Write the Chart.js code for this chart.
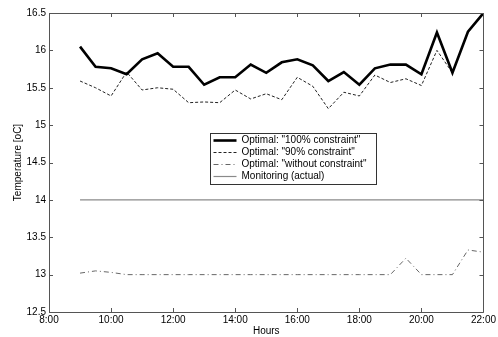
<!DOCTYPE html>
<html>
<head>
<meta charset="utf-8">
<script src="https://cdn.jsdelivr.net/npm/chart.js@4"></script>
<style>
  html, body { margin: 0; padding: 0; background: #fff; }
  #wrap { width: 498px; height: 337px; }
</style>
</head>
<body>
<div id="wrap"><canvas id="temp-chart" width="498" height="337"></canvas></div>
<script>
// half-hourly readings, 9:00 .. 22:00
const hours = [9, 9.5, 10, 10.5, 11, 11.5, 12, 12.5, 13, 13.5, 14, 14.5, 15, 15.5,
               16, 16.5, 17, 17.5, 18, 18.5, 19, 19.5, 20, 20.5, 21, 21.5, 22];

const optimal100 = [16.05, 15.78, 15.76, 15.68, 15.88, 15.96, 15.78, 15.78, 15.54, 15.64,
                    15.64, 15.81, 15.70, 15.84, 15.88, 15.80, 15.59, 15.71, 15.54, 15.76,
                    15.81, 15.81, 15.68, 16.24, 15.70, 16.25, 16.50];

const optimal90 = [15.59, 15.50, 15.39, 15.71, 15.47, 15.50, 15.48, 15.30, 15.31, 15.30,
                   15.47, 15.35, 15.42, 15.34, 15.64, 15.52, 15.22, 15.44, 15.39, 15.67,
                   15.57, 15.62, 15.53, 16.00, 15.70, 16.25, 16.50];

const optimalFree = [13.02, 13.05, 13.03, 13.00, 13.00, 13.00, 13.00, 13.00, 13.00, 13.00,
                     13.00, 13.00, 13.00, 13.00, 13.00, 13.00, 13.00, 13.00, 13.00, 13.00,
                     13.00, 13.22, 13.00, 13.00, 13.00, 13.33, 13.30];

const monitoring = [14, 14, 14, 14, 14, 14, 14, 14, 14, 14, 14, 14, 14, 14,
                    14, 14, 14, 14, 14, 14, 14, 14, 14, 14, 14, 14, 14];

const seriesNames = [
    'Optimal: "100% constraint"',
    'Optimal: "90% constraint"',
    'Optimal: "without constraint"',
    'Monitoring (actual)'
];

const FONT = "'Liberation Sans', Arial, sans-serif";

function points(values) {
    return values.map((v, i) => ({ x: hours[i], y: v }));
}

// matlab-like box around the plot with inward ticks on every side
const frame = {
    id: 'frame',
    afterDatasetsDraw(chart) {
        const { ctx, chartArea: a, scales } = chart;
        ctx.save();
        ctx.strokeStyle = '#555';
        ctx.lineWidth = 1;
        ctx.beginPath();
        ctx.rect(Math.round(a.left) + 0.5, Math.round(a.top) + 0.5,
                 Math.round(a.right - a.left), Math.round(a.bottom - a.top));
        const len = 4;
        scales.x.ticks.forEach(t => {
            const px = Math.round(scales.x.getPixelForValue(t.value)) + 0.5;
            ctx.moveTo(px, a.bottom); ctx.lineTo(px, a.bottom - len);
            ctx.moveTo(px, a.top); ctx.lineTo(px, a.top + len);
        });
        scales.y.ticks.forEach(t => {
            const py = Math.round(scales.y.getPixelForValue(t.value)) + 0.5;
            ctx.moveTo(a.left, py); ctx.lineTo(a.left + len, py);
            ctx.moveTo(a.right, py); ctx.lineTo(a.right - len, py);
        });
        ctx.stroke();
        ctx.restore();
    }
};

// boxed legend sitting inside the plot area
const boxLegend = {
    id: 'boxLegend',
    afterDraw(chart) {
        const { ctx, chartArea: a } = chart;
        const x = Math.round(a.left + (a.right - a.left) * 0.371) + 0.5;
        const y = Math.round(a.top + (a.bottom - a.top) * 0.403) + 0.5;
        const w = 166, h = 51, row = 12;
        ctx.save();
        ctx.fillStyle = '#fff';
        ctx.fillRect(x, y, w, h);
        ctx.strokeStyle = '#333';
        ctx.lineWidth = 1;
        ctx.setLineDash([]);
        ctx.strokeRect(x, y, w, h);
        ctx.font = '10px ' + FONT;
        ctx.textBaseline = 'middle';
        chart.data.datasets.forEach((ds, i) => {
            const cy = y + 7 + i * row;
            ctx.beginPath();
            ctx.strokeStyle = ds.borderColor;
            ctx.lineWidth = ds.borderWidth;
            ctx.setLineDash(ds.borderDash || []);
            ctx.moveTo(x + 3, cy);
            ctx.lineTo(x + 26, cy);
            ctx.stroke();
            ctx.fillStyle = '#000';
            ctx.fillText(ds.label, x + 31, cy);
        });
        ctx.restore();
    }
};

const ctx = document.getElementById('temp-chart').getContext('2d');

new Chart(ctx, {
    type: 'line',
    data: {
        datasets: [
            {
                label: seriesNames[0],
                data: points(optimal100),
                borderColor: '#000',
                borderWidth: 2.6,
                order: 0
            },
            {
                label: seriesNames[1],
                data: points(optimal90),
                borderColor: '#222',
                borderWidth: 1,
                borderDash: [3, 2],
                order: 1
            },
            {
                label: seriesNames[2],
                data: points(optimalFree),
                borderColor: '#666',
                borderWidth: 1,
                borderDash: [5, 3, 1, 3],
                order: 2
            },
            {
                label: seriesNames[3],
                data: points(monitoring),
                borderColor: '#8a8a8a',
                borderWidth: 1.2,
                order: 3
            }
        ]
    },
    options: {
        responsive: false,
        animation: false,
        elements: {
            point: { radius: 0 },
            line: { tension: 0, fill: false }
        },
        layout: { padding: { left: 12, right: 13, top: 13, bottom: 0 } },
        plugins: {
            legend: { display: false },
            tooltip: { enabled: false }
        },
        scales: {
            x: {
                type: 'linear',
                min: 8,
                max: 22,
                afterFit(scale) { scale.height = 25; },
                grid: { display: false, drawTicks: false },
                border: { display: false },
                ticks: {
                    stepSize: 2,
                    padding: 2,
                    maxRotation: 0,
                    color: '#000',
                    font: { family: FONT, size: 10 },
                    callback: v => v + ':00'
                },
                title: {
                    display: true,
                    text: 'Hours',
                    color: '#000',
                    padding: { top: 0, bottom: 0 },
                    font: { family: FONT, size: 10 }
                }
            },
            y: {
                min: 12.5,
                max: 16.5,
                afterFit(scale) { scale.width = 37; },
                grid: { display: false, drawTicks: false },
                border: { display: false },
                ticks: {
                    stepSize: 0.5,
                    padding: 3,
                    color: '#000',
                    font: { family: FONT, size: 10 },
                    callback: v => String(v)
                },
                title: {
                    display: true,
                    text: 'Temperature [oC]',
                    color: '#000',
                    padding: { top: 0, bottom: 0 },
                    font: { family: FONT, size: 10 }
                }
            }
        }
    },
    plugins: [frame, boxLegend]
});
</script>
</body>
</html>
